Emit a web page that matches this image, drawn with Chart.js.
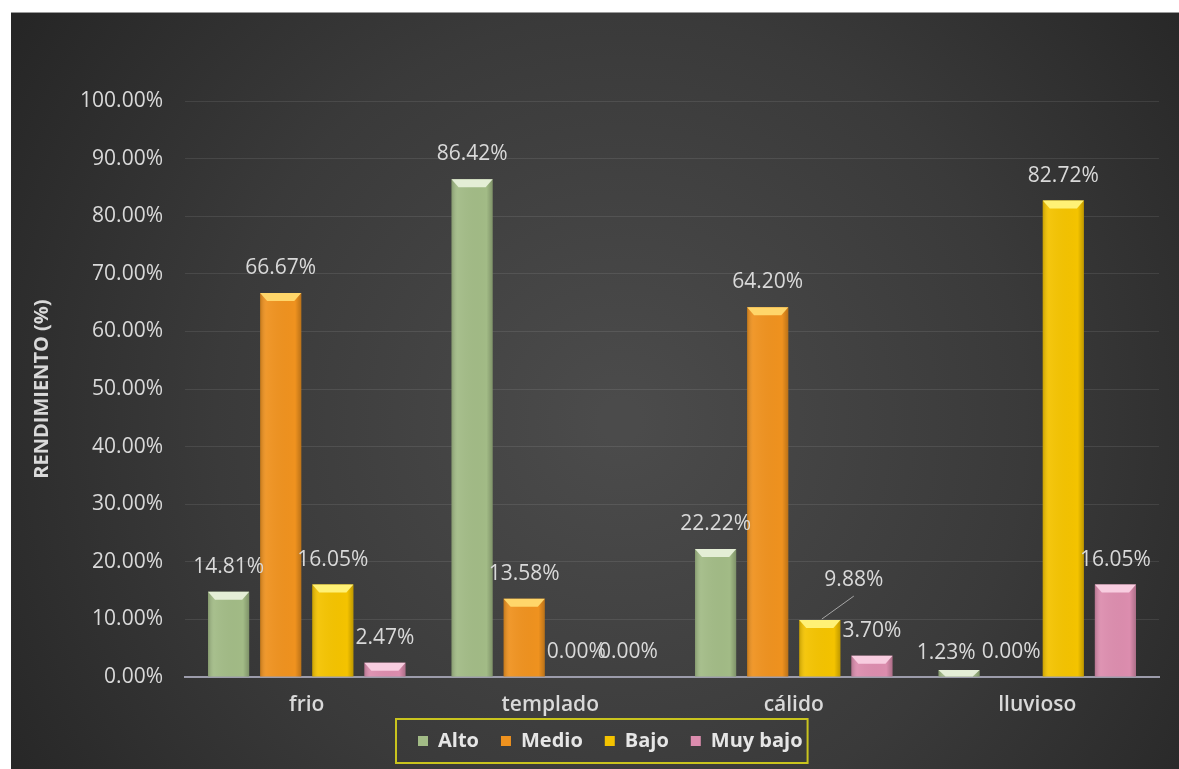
<!DOCTYPE html>
<html>
<head>
<meta charset="utf-8">
<script src="https://cdn.jsdelivr.net/npm/chart.js@4/dist/chart.umd.min.js"></script>
<style>
  html, body { margin: 0; padding: 0; background: #fff; overflow: hidden; }
  #wrap { position: relative; width: 1179px; height: 769px; }
</style>
</head>
<body>
<div id="wrap"><canvas id="bar-chart" width="1179" height="769"></canvas></div>
<script>
var categories = ["frio", "templado", "cálido", "lluvioso"];
var alto     = [14.81, 86.42, 22.22, 1.23];
var medio    = [66.67, 13.58, 64.20, 0.00];
var bajo     = [16.05, 0.00, 9.88, 82.72];
var muyBajo  = [2.47, 0.00, 3.70, 16.05];
var yTicks   = [0, 10, 20, 30, 40, 50, 60, 70, 80, 90, 100];

// colores de cada serie (relleno, bisel superior)
var colores = {
  Alto:       ['#a2bb86', '#e4eed6'],
  Medio:      ['#ef921f', '#ffd66a'],
  Bajo:       ['#f4c300', '#fff176'],
  'Muy bajo': ['#dc8dae', '#f8cde0']
};

var fuente = "'Open Sans', 'DejaVu Sans', sans-serif";

// fondo gris oscuro con degradado radial
var fondo = {
  id: 'fondo',
  beforeDraw: function (chart) {
    var c = chart.ctx;
    c.save();
    c.fillStyle = '#ffffff';
    c.fillRect(0, 0, chart.width, chart.height);
    var g = c.createRadialGradient(620, 420, 20, 620, 420, 720);
    g.addColorStop(0, '#4b4b4b');
    g.addColorStop(0.55, '#3a3a3a');
    g.addColorStop(1, '#262626');
    c.fillStyle = g;
    c.fillRect(11, 13, chart.width - 11, chart.height - 13);
    c.fillStyle = '#9a9a9a';
    c.fillRect(11, 12, chart.width - 11, 1);
    c.restore();
  }
};

// bisel de las barras, etiquetas y recuadro de la leyenda
var extras = {
  id: 'extras',
  afterLayout: function (chart) {
    // mover la leyenda para que quede donde en el original
    var lg = chart.legend;
    var pad = lg.options.labels.padding;
    var start = (lg.left + pad + lg.right - lg.lineWidths[0]) / 2;
    var d = 418 - start;
    lg.left += d; lg.right += d;
    lg.top -= 10; lg.bottom -= 10;
  },
  afterDatasetsDraw: function (chart) {
    var c = chart.ctx;
    c.save();
    chart.data.datasets.forEach(function (ds, di) {
      var meta = chart.getDatasetMeta(di);
      var col = colores[ds.label];
      meta.data.forEach(function (el) {
        var w = el.width, l = el.x - w / 2, r = el.x + w / 2;
        var h = el.base - el.y;
        if (h <= 0) return;
        // sombreado lateral
        var g = c.createLinearGradient(l, 0, r, 0);
        g.addColorStop(0, 'rgba(0,0,0,0.18)');
        g.addColorStop(0.15, 'rgba(255,255,255,0.06)');
        g.addColorStop(0.85, 'rgba(0,0,0,0)');
        g.addColorStop(1, 'rgba(0,0,0,0.22)');
        c.fillStyle = g;
        c.fillRect(l, el.y, w, h);
        // bisel superior
        var bh = Math.min(8, h);
        c.fillStyle = col[1];
        c.beginPath();
        c.moveTo(l, el.y);
        c.lineTo(r, el.y);
        c.lineTo(r - 7, el.y + bh);
        c.lineTo(l + 7, el.y + bh);
        c.closePath();
        c.fill();
      });
    });

    // etiquetas de datos
    var ajustes = chart.options.plugins.extras.ajustes;
    c.font = '21px ' + fuente;
    c.fillStyle = '#d9d9d9';
    c.textAlign = 'center';
    c.textBaseline = 'middle';
    chart.data.datasets.forEach(function (ds, di) {
      var meta = chart.getDatasetMeta(di);
      meta.data.forEach(function (el, i) {
        var a = ajustes[di + '-' + i] || {dx: 0, dy: 0};
        var tx = el.x + a.dx, ty = el.y - 25 + a.dy;
        if (a.guia) {
          c.strokeStyle = '#a6a6a6';
          c.lineWidth = 1;
          c.beginPath();
          c.moveTo(el.x + 2, el.y - 1);
          c.lineTo(tx, ty + 16);
          c.stroke();
        }
        c.fillText(ds.data[i].toFixed(2) + '%', tx, ty);
      });
    });

    c.restore();
  },
  afterDraw: function (chart) {
    var lg = chart.legend, c = chart.ctx;
    if (!lg || !lg.legendHitBoxes.length) return;
    var hb = lg.legendHitBoxes, last = hb[hb.length - 1];
    var x0 = hb[0].left - 22, x1 = last.left + last.width + 5;
    var y0 = hb[0].top + hb[0].height / 2 - 22;
    c.save();
    c.strokeStyle = '#c9c41e';
    c.lineWidth = 2;
    c.strokeRect(x0, y0, x1 - x0, 44);
    c.restore();
  }
};

new Chart(document.getElementById("bar-chart"), {
  type: 'bar',
  data: {
    labels: categories,
    datasets: [
      { label: 'Alto',     data: alto,    backgroundColor: colores.Alto[0] },
      { label: 'Medio',    data: medio,   backgroundColor: colores.Medio[0] },
      { label: 'Bajo',     data: bajo,    backgroundColor: colores.Bajo[0] },
      { label: 'Muy bajo', data: muyBajo, backgroundColor: colores['Muy bajo'][0] }
    ]
  },
  plugins: [fondo, extras],
  options: {
    responsive: false,
    animation: false,
    layout: { padding: { left: 11, top: 101, right: 20, bottom: -2 } },
    datasets: { bar: { categoryPercentage: 0.856, barPercentage: 0.79 } },
    scales: {
      x: {
        grid: { display: false },
        border: { color: '#9c9cab', width: 2 },
        ticks: { color: '#d9d9d9', font: { family: fuente, size: 21, weight: '600' }, padding: 7 },
        afterFit: function (s) { s.height = 42; }
      },
      y: {
        min: 0, max: 100,
        afterBuildTicks: function (s) { s.ticks = yTicks.map(function (v) { return { value: v }; }); },
        grid: { color: 'rgba(255,255,255,0.09)', drawTicks: false },
        border: { display: false },
        ticks: {
          color: '#d9d9d9', padding: 22,
          font: { family: fuente, size: 21 },
          callback: function (v) { return v.toFixed(2) + '%'; }
        },
        title: {
          display: true, text: 'RENDIMIENTO (%)', color: '#d9d9d9',
          font: { family: fuente, size: 20, weight: 'bold' },
          padding: { top: 19, bottom: 0 }
        },
        afterFit: function (s) { s.width = 174; }
      }
    },
    plugins: {
      legend: {
        position: 'bottom',
        labels: {
          color: '#e6e6e6', usePointStyle: true, pointStyle: 'rect',
          boxWidth: 10, boxHeight: 10, padding: 22,
          font: { family: fuente, size: 20, weight: 'bold' }
        }
      },
      tooltip: { enabled: false },
      extras: {
        ajustes: {
          '2-2': { dx: 34, dy: -15, guia: true },
          '0-3': { dx: -13, dy: 8 }
        }
      }
    }
  }
});
</script>
</body>
</html>
